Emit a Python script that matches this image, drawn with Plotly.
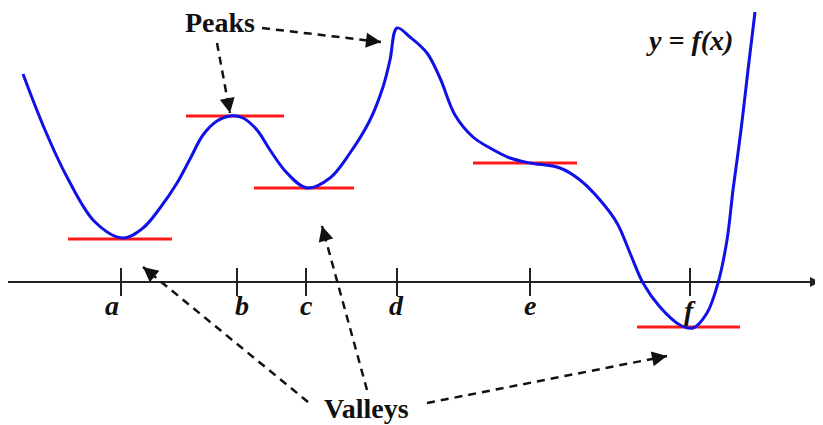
import plotly.graph_objects as go

# Coordinates: x in pixels, y measured upward from the x-axis line (pixel row 282)
curve_x = [23, 45, 67, 95, 123, 143, 160, 177, 190, 203, 217, 230, 243, 257, 270, 287,
           307, 330, 350, 370, 383, 390, 397, 410, 427, 440, 455, 473, 490, 510,
           530, 560, 580, 600, 617, 630, 643, 660, 680, 693, 707, 718, 727, 733, 741,
           748, 755]
curve_y_px = [74, 130, 177, 222, 238, 228, 208, 183, 159, 135, 121, 116, 118, 130, 150, 173,
              188, 178, 153, 120, 87, 60, 28, 37, 53, 78, 115, 137, 148, 158,
              163, 168, 180, 200, 223, 253, 283, 307, 325, 328, 313, 283, 240, 190, 130,
              70, 12]
curve_y = [282 - v for v in curve_y_px]

# horizontal tangent lines: (x0, x1, y_px)
tangents = [(68, 172, 239), (186, 284, 116), (254, 354, 188), (473, 577, 163), (637, 740, 327)]

tick_x = [121, 237, 306, 397, 530, 690]
tick_labels = ["a", "b", "c", "d", "e", "f"]
label_x = [112, 242, 306, 396, 530, 690]
label_y_px = [305, 305, 305, 305, 305, 310]

# dashed arrows: start (x, y_px) -> end (x, y_px)
arrows = [((217, 43), (230, 113)), ((262, 28), (381, 42)),
          ((308, 402), (143, 267)), ((367, 390), (322, 226)), ((427, 403), (667, 356))]

# page has an 8px body margin: shift the data window so marks land on the same page pixels
OFF = 8
W, H = 823 - OFF, 425 - OFF

fig = go.Figure()

# axis line
fig.add_trace(go.Scatter(x=[8, 812], y=[0, 0], mode="lines",
                         line=dict(color="#222", width=2), hoverinfo="skip"))
for tx in tick_x:
    fig.add_trace(go.Scatter(x=[tx, tx], y=[282 - 268, 282 - 296], mode="lines",
                             line=dict(color="#222", width=2), hoverinfo="skip"))

for x0, x1, yp in tangents:
    fig.add_trace(go.Scatter(x=[x0, x1], y=[282 - yp, 282 - yp], mode="lines",
                             line=dict(color="#ff1a1a", width=3), hoverinfo="skip"))

fig.add_trace(go.Scatter(x=curve_x, y=curve_y, mode="lines",
                         line=dict(color="#1010e8", width=3, shape="spline", smoothing=1.0),
                         hoverinfo="skip"))

annotations = []
# axis arrowhead
annotations.append(dict(x=820, y=0, ax=805, ay=0, xref="x", yref="y", axref="x", ayref="y",
                        text="", showarrow=True, arrowhead=2, arrowsize=1, arrowwidth=2,
                        arrowcolor="#222"))

for (sx, sy), (ex, ey) in arrows:
    fig.add_trace(go.Scatter(x=[sx, ex], y=[282 - sy, 282 - ey], mode="lines",
                             line=dict(color="#111", width=2.5, dash="8px,6px"),
                             hoverinfo="skip"))
    dx, dy = ex - sx, ey - sy
    L = (dx * dx + dy * dy) ** 0.5
    bx, by = ex - dx / L * 6, ey - dy / L * 6
    annotations.append(dict(x=ex, y=282 - ey, ax=bx, ay=282 - by, xref="x", yref="y",
                            axref="x", ayref="y", text="", showarrow=True, arrowhead=2,
                            arrowsize=1.2, arrowwidth=2.5, arrowcolor="#111"))

serif = "Liberation Serif"
for lx, ly, t in zip(label_x, label_y_px, tick_labels):
    annotations.append(dict(x=lx, y=282 - ly, xref="x", yref="y", text=f"<b><i>{t}</i></b>",
                            showarrow=False, font=dict(family=serif, size=28, color="#111")))

annotations.append(dict(x=220, y=282 - 22, xref="x", yref="y", text="<b>Peaks</b>",
                        showarrow=False, font=dict(family=serif, size=28, color="#111")))
annotations.append(dict(x=366, y=282 - 408, xref="x", yref="y", text="<b>Valleys</b>",
                        showarrow=False, font=dict(family=serif, size=28, color="#111")))
annotations.append(dict(x=689, y=282 - 40, xref="x", yref="y", text="<b><i>y = f(x)</i></b>",
                        showarrow=False, font=dict(family=serif, size=28, color="#111")))

fig.update_layout(
    width=W, height=H, margin=dict(l=0, r=0, t=0, b=0),
    paper_bgcolor="white", plot_bgcolor="white", showlegend=False,
    xaxis=dict(range=[OFF, 823], visible=False, fixedrange=True),
    yaxis=dict(range=[282 - 425, 282 - OFF], visible=False, fixedrange=True),
    annotations=annotations,
)

fig.write_html("out.html")
